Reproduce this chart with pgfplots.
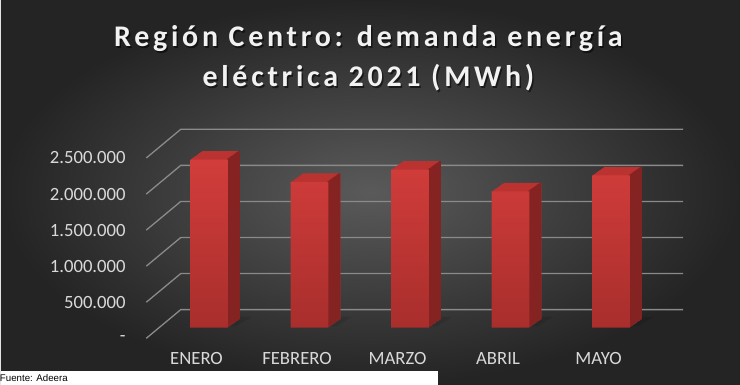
\documentclass[border=0pt]{standalone}
\usepackage{pgfplots}
\pgfplotsset{compat=1.18}
\usepackage{pgfplotstable}
\usepackage{fontspec}
\setmainfont{Carlito}
\newfontfamily\titlefont[LetterSpace=12.5]{Carlito}
\newfontfamily\srcfont{Liberation Sans}
\definecolor{bgin}{HTML}{5A5A5A}
\definecolor{bgout}{HTML}{242424}
\definecolor{gridc}{HTML}{8A8A8A}
\definecolor{lblc}{HTML}{D9D9D9}
\definecolor{topc}{HTML}{BA3331}
\definecolor{sidec}{HTML}{852322}
\definecolor{frontTop}{HTML}{D23D3B}
\definecolor{frontBot}{HTML}{A82E2C}

\pgfplotstableread{
x y
0 2330000
1 2020000
2 2190000
3 1890000
4 2110000
}\demanda

\begin{document}
\begin{tikzpicture}[x=1pt,y=1pt]
\shade[inner color=bgin, outer color=bgout] (0,0) rectangle (740,385);
\fill[white] (0,0) rectangle (438,14);
\node[anchor=base west, inner sep=0pt, font=\srcfont\fontsize{9.7}{11}\selectfont, text=black] at (-1,3.5) {Fuente: Adeera};
% title with shadow
\node[anchor=base, inner sep=0pt, font=\titlefont\bfseries\fontsize{30}{34}\selectfont, text=black, opacity=0.55] at (369.5,336.8) {Región Centro: demanda energía};
\node[anchor=base, inner sep=0pt, font=\titlefont\bfseries\fontsize{30}{34}\selectfont, text=black, opacity=0.55] at (369.5,296.5) {eléctrica 2021 (MWh)};
\node[anchor=base, inner sep=0pt, font=\titlefont\bfseries\fontsize{30}{34}\selectfont, text=white!95!black] at (368,338.3) {Región Centro: demanda energía};
\node[anchor=base, inner sep=0pt, font=\titlefont\bfseries\fontsize{30}{34}\selectfont, text=white!95!black] at (368,298) {eléctrica 2021 (MWh)};
\begin{axis}[
  at={(157.2,79)}, anchor=south west,
  width=503pt, height=180.5pt, scale only axis,
  xmin=-0.5, xmax=4.5, ymin=0, ymax=2500000,
  clip=false,
  axis line style={draw=none},
  major tick length=0pt,
  xtick={0,1,2,3,4},
  xticklabels={ENERO,FEBRERO,MARZO,ABRIL,MAYO},
  ytick={0,500000,1000000,1500000,2000000,2500000},
  yticklabels={-\hspace{8pt},500.000,1.000.000,1.500.000,2.000.000,2.500.000},
  scaled y ticks=false,
  ticklabel style={font=\fontsize{18.7}{20}\selectfont, text=lblc},
  yticklabel style={anchor=east, inner sep=0pt, xshift=-33pt, yshift=-10.7pt},
  xticklabel style={anchor=base, inner sep=0pt, xshift=-12.5pt, yshift=-37.3pt},
]
\pgfplotsinvokeforeach{0,500000,1000000,1500000,2000000,2500000}{
  \draw[gridc, line width=1.3pt] ([xshift=-12.5pt,yshift=-10.7pt]axis cs:-0.5,#1) -- ([xshift=22pt,yshift=18pt]axis cs:-0.5,#1) -- ([xshift=22pt,yshift=18pt]axis cs:4.5,#1);
}
% floor shadows
\pgfplotsinvokeforeach{1,2,3,4,5,6,7,8}{
  \addplot[ybar, bar width=40pt, bar shift=2pt, fill=black, fill opacity=0.07, draw=none, xshift=#1*2pt+4pt, yshift=#1*1.2pt] table[x=x,y expr=20000]{\demanda};
}
% top faces (swept copies)
\pgfplotsinvokeforeach{12,11,10,9,8,7,6,5,4,3,2,1}{
  \addplot[ybar, bar width=38pt, bar shift=0pt, fill=topc, draw=none, xshift=#1pt, yshift=#1*0.708pt] table[x=x,y=y]{\demanda};
}
% side faces
\pgfplotsinvokeforeach{12,11,10,9,8,7,6,5,4,3,2,1}{
  \addplot[ybar, bar width=2pt, bar shift=18pt, fill=sidec, draw=none, xshift=#1pt, yshift=#1*0.708pt] table[x=x,y=y]{\demanda};
}
% front faces
\addplot[ybar, bar width=38pt, bar shift=0pt, draw=none, top color=frontTop, bottom color=frontBot] table[x=x,y=y]{\demanda};
\end{axis}
\end{tikzpicture}
\end{document}
